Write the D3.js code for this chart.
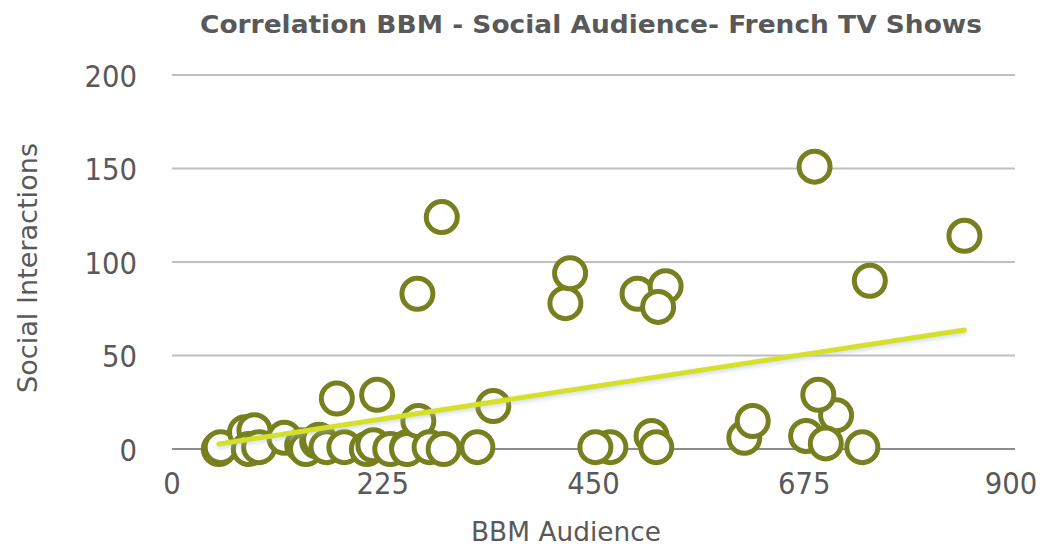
<!DOCTYPE html>
<html>
<head>
<meta charset="utf-8">
<script src="https://cdn.jsdelivr.net/npm/d3@7"></script>
<style>
  html, body { margin: 0; padding: 0; background: #ffffff; }
  svg { display: block; font-family: "DejaVu Sans", Verdana, sans-serif; }
</style>
</head>
<body>
<svg id="chart" width="1044" height="548"></svg>
<script>
// BBM audience (x) vs social interactions (y), one entry per show
const bbmAudience = [
  50, 52, 78, 88, 82, 93, 120, 139, 143, 155, 157, 165, 176, 184, 208, 215, 219,
  233, 251, 251, 263, 275, 290, 326, 343, 262, 288, 420, 425, 468, 452, 497, 527,
  519, 512, 517, 611, 620, 686, 709, 677, 690, 698, 737, 745, 846
];
const socialInteractions = [
  0, 1, 9, 10, 0, 1, 6, 2, 0, 4, 5, 1, 27, 1, 0, 2, 29,
  0, 1, 0, 15, 1, 0, 1, 23, 83, 124, 78, 94, 1, 1, 83, 87,
  76, 7, 1, 6, 15, 151, 18, 7, 29, 3, 1, 90, 114
];
const xTicks = [0, 225, 450, 675, 900];
const yTicks = [0, 50, 100, 150, 200];

const titleText = "Correlation BBM - Social Audience- French TV Shows";
const xTitle = "BBM Audience";
const yTitle = "Social Interactions";

const svg = d3.select("#chart");
const plotLeft = 172, plotRight = 1015, plotTop = 75, plotBottom = 449;

const x = d3.scaleLinear().domain([0, 900]).range([plotLeft, plotRight]);
const y = d3.scaleLinear().domain([0, 200]).range([plotBottom, plotTop]);

const textColor = "#595959";
const digitWidth = 17.5;

// Title
svg.append("text")
  .attr("x", 591).attr("y", 33)
  .attr("text-anchor", "middle")
  .attr("font-size", 25.5).attr("font-weight", "bold")
  .attr("fill", textColor)
  .attr("textLength", 782).attr("lengthAdjust", "spacingAndGlyphs")
  .text(titleText);

// Horizontal gridlines
svg.append("g")
  .selectAll("line")
  .data(yTicks)
  .join("line")
  .attr("x1", plotLeft).attr("x2", plotRight)
  .attr("y1", d => y(d)).attr("y2", d => y(d))
  .attr("stroke", d => d === 0 ? "#8c8c8c" : "#bfbfbf")
  .attr("stroke-width", 2);

// Y tick labels
svg.append("g")
  .selectAll("text")
  .data(yTicks)
  .join("text")
  .attr("x", 137).attr("y", d => y(d) + 11.5)
  .attr("text-anchor", "end")
  .attr("font-size", 31)
  .attr("fill", textColor)
  .attr("textLength", d => String(d).length * digitWidth)
  .attr("lengthAdjust", "spacingAndGlyphs")
  .text(d => d);

// X tick labels (the last one is kept inside the canvas edge)
svg.append("g")
  .selectAll("text")
  .data(xTicks)
  .join("text")
  .attr("x", d => Math.min(x(d), 1011)).attr("y", 494)
  .attr("text-anchor", "middle")
  .attr("font-size", 31)
  .attr("fill", textColor)
  .attr("textLength", d => String(d).length * digitWidth)
  .attr("lengthAdjust", "spacingAndGlyphs")
  .text(d => d);

// Axis titles
svg.append("text")
  .attr("x", 566).attr("y", 541)
  .attr("text-anchor", "middle")
  .attr("font-size", 27)
  .attr("fill", textColor)
  .attr("textLength", 190).attr("lengthAdjust", "spacingAndGlyphs")
  .text(xTitle);

svg.append("text")
  .attr("transform", "translate(37,268) rotate(-90)")
  .attr("text-anchor", "middle")
  .attr("font-size", 27)
  .attr("fill", textColor)
  .attr("textLength", 250).attr("lengthAdjust", "spacingAndGlyphs")
  .text(yTitle);

// Scatter markers: hollow olive rings
const points = bbmAudience.map((v, i) => ({ x: v, y: socialInteractions[i] }));
svg.append("g")
  .selectAll("circle")
  .data(points)
  .join("circle")
  .attr("cx", d => x(d.x)).attr("cy", d => y(d.y))
  .attr("r", 15.5)
  .attr("fill", "#ffffff")
  .attr("stroke", "#76801e")
  .attr("stroke-width", 5);

// Linear least-squares trendline across the data range
const mx = d3.mean(points, d => d.x), my = d3.mean(points, d => d.y);
const sxy = d3.sum(points, d => (d.x - mx) * (d.y - my));
const sxx = d3.sum(points, d => (d.x - mx) * (d.x - mx));
const slope = sxy / sxx, intercept = my - slope * mx;
const [xmin, xmax] = d3.extent(points, d => d.x);

const defs = svg.append("defs");
const f = defs.append("filter").attr("id", "halo")
  .attr("x", "-5%").attr("y", "-50%").attr("width", "110%").attr("height", "200%");
f.append("feDropShadow").attr("dx", 0).attr("dy", 2).attr("stdDeviation", 2)
  .attr("flood-color", "#9fb4d6").attr("flood-opacity", 0.5);

svg.append("line")
  .attr("x1", x(xmin)).attr("y1", y(intercept + slope * xmin))
  .attr("x2", x(xmax)).attr("y2", y(intercept + slope * xmax))
  .attr("stroke", "#d6e026")
  .attr("stroke-width", 5)
  .attr("stroke-linecap", "round")
  .attr("filter", "url(#halo)");
</script>
</body>
</html>
